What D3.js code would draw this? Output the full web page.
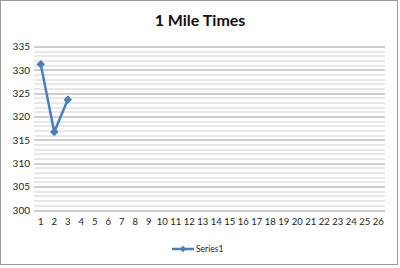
<!DOCTYPE html>
<html>
<head>
<meta charset="utf-8">
<script src="https://cdn.jsdelivr.net/npm/d3@7"></script>
<style>
  body { margin: 0; background: #fff; }
  svg { display: block; font-family: Lato, "Open Sans", sans-serif; }
</style>
</head>
<body>
<div class="chart"></div>
<script>
// chart data
var categories = d3.range(1, 27);
var seriesName = "Series1";
var times = [331.2, 316.7, 323.6];
var yTicks = [300, 305, 310, 315, 320, 325, 330, 335];

var W = 400, H = 268;
var margin = {top: 46.5, right: 15, bottom: 58, left: 34};
var width = W - margin.left - margin.right,
    height = H - margin.top - margin.bottom;

var svg = d3.select(".chart").append("svg")
    .attr("width", W)
    .attr("height", H);

// outer frame
svg.append("rect")
    .attr("x", 0.5).attr("y", 0.5)
    .attr("width", W - 3).attr("height", H - 4)
    .attr("fill", "#fff")
    .attr("stroke", "#9a9a9a");

svg.append("text")
    .attr("x", 200).attr("y", 26)
    .attr("text-anchor", "middle")
    .attr("font-size", 16)
    .attr("font-weight", "bold")
    .attr("fill", "#111")
    .text("1 Mile Times");

var g = svg.append("g")
    .attr("transform", "translate(" + margin.left + "," + margin.top + ")");

var x = d3.scaleBand()
    .domain(categories)
    .range([0, width]);

var y = d3.scaleLinear()
    .domain([300, 335])
    .range([height, 0]);

// minor gridlines, every 1
g.append("g")
    .selectAll("line")
    .data(d3.range(300, 336).filter(function(d) { return d % 5 !== 0; }))
  .enter().append("line")
    .attr("x1", 0).attr("x2", width)
    .attr("y1", function(d) { return Math.round(y(d)) + 0.5; })
    .attr("y2", function(d) { return Math.round(y(d)) + 0.5; })
    .attr("stroke", "#d0d0d0");

// major gridlines
g.append("g")
    .selectAll("line")
    .data(yTicks)
  .enter().append("line")
    .attr("x1", 0).attr("x2", width)
    .attr("y1", function(d) { return Math.round(y(d)) + 0.5; })
    .attr("y2", function(d) { return Math.round(y(d)) + 0.5; })
    .attr("stroke", "#9c9c9c");

// y axis labels
var yAxis = g.append("g")
    .call(d3.axisLeft(y).tickValues(yTicks).tickSize(0).tickPadding(4));
yAxis.select(".domain").remove();
yAxis.selectAll("text").attr("font-size", 10).attr("fill", "#222")
    .attr("font-family", "Lato, sans-serif");

// x axis labels
var xAxis = g.append("g")
    .attr("transform", "translate(0," + height + ")")
    .call(d3.axisBottom(x).tickSize(0).tickPadding(8));
xAxis.select(".domain").remove();
xAxis.selectAll("text").attr("font-size", 9.5).attr("fill", "#222")
    .attr("font-family", "Lato, sans-serif");

var line = d3.line()
    .x(function(d, i) { return x(categories[i]) + x.bandwidth() / 2; })
    .y(function(d) { return y(d); });

var blue = "#4a7ebb";

g.append("path")
    .datum(times)
    .attr("fill", "none")
    .attr("stroke", blue)
    .attr("stroke-width", 2.5)
    .attr("stroke-linejoin", "round")
    .attr("d", line);

// square turned 45deg = excel diamond marker
var diamond = d3.symbol().type(d3.symbolSquare).size(36);

g.selectAll(".pt")
    .data(times)
  .enter().append("path")
    .attr("class", "pt")
    .attr("transform", function(d, i) {
      return "translate(" + (x(categories[i]) + x.bandwidth() / 2) + "," + y(d) + ") rotate(45)";
    })
    .attr("d", diamond)
    .attr("fill", blue);

// legend
var lg = svg.append("g").attr("transform", "translate(172,249)");
lg.append("line")
    .attr("x1", 0).attr("x2", 22)
    .attr("stroke", blue).attr("stroke-width", 2.5);
lg.append("path")
    .attr("transform", "translate(11,0) rotate(45)")
    .attr("d", d3.symbol().type(d3.symbolSquare).size(22))
    .attr("fill", blue);
lg.append("text")
    .attr("x", 24).attr("y", 3)
    .attr("font-size", 8.5)
    .attr("fill", "#222")
    .text(seriesName);
</script>
</body>
</html>
